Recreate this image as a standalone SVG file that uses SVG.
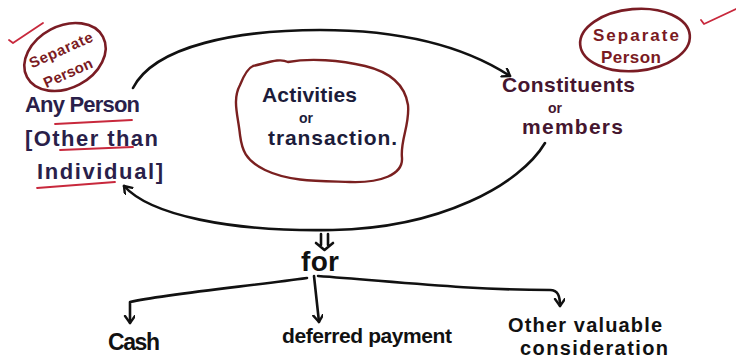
<svg xmlns="http://www.w3.org/2000/svg" width="736" height="361" viewBox="0 0 736 361">
<defs>
<style>
text{font-family:"Liberation Sans",Arial,sans-serif;font-weight:bold;}
.ink{fill:#2a1f4a;}
.nav{fill:#1c1c3a;}
.mar{fill:#45162f;}
.blk{fill:#111;}
.redt{fill:#7a1a22;}
.line{fill:none;stroke:#111;stroke-width:2.6;stroke-linecap:round;stroke-linejoin:round;}
.oval{fill:none;stroke:#7a1c24;stroke-width:2.6;}
.red{fill:none;stroke:#c8283c;stroke-width:1.8;stroke-linecap:round;stroke-linejoin:round;}
</style>
<marker id="ah" markerUnits="userSpaceOnUse" markerWidth="16" markerHeight="16" refX="8" refY="5" orient="auto">
<path d="M1,0 L8,5 L1,10" fill="none" stroke="#111" stroke-width="2.4" stroke-linecap="round" stroke-linejoin="round"/>
</marker>
</defs>
<rect width="736" height="361" fill="#fff"/>

<g id="connectors">
<path class="line" d="M133,88 C155,45 240,30 320,30 C410,30 470,50 510,76" marker-end="url(#ah)"/>
<path class="line" d="M545,143 C520,185 440,228 333,230 C230,232 150,215 124,186" marker-end="url(#ah)"/>
<path class="line" d="M321,234 L321,245 M328,234 L328,245 M316,243 L324.5,250 L333,243" stroke-width="2"/>
<path class="line" d="M307,278 C250,286 165,294 130,302 L130,323" marker-end="url(#ah)"/>
<path class="line" d="M314,276 L319,322" marker-end="url(#ah)"/>
<path class="line" d="M318,276 C400,282 470,290 550,290 C558,290 560,296 560,306" marker-end="url(#ah)"/>
</g>

<g id="marks">
<path class="red" d="M9,40 L13,43 L43,23"/>
<path class="red" d="M701,20 L704,24 L736,9"/>
<path class="red" d="M55,124 L132,120"/>
<path class="red" d="M60,150 L133,147" stroke="#6a1f3a"/>
<path class="red" d="M37,188 L115,182"/>
</g>

<g id="separate-person-left">
<ellipse class="oval" cx="65" cy="57" rx="43" ry="31" transform="rotate(-28 65 57)"/>
<text class="redt" x="61" y="55" font-size="15" text-anchor="middle" textLength="68" transform="rotate(-24 61 50)">Separate</text>
<text class="redt" x="68" y="78" font-size="15" text-anchor="middle" textLength="52" transform="rotate(-24 68 73)">Person</text>
</g>

<g id="any-person">
<text class="ink" x="25" y="112" font-size="22" textLength="115">Any Person</text>
<text class="ink" x="25" y="146" font-size="22" textLength="133">[Other than</text>
<text class="ink" x="37" y="179" font-size="22" textLength="126">Individual]</text>
</g>

<g id="activities">
<path fill="none" stroke="#7a2020" stroke-width="2.4" d="M253,66 C270,62 280,58 288,62 C310,58 340,60 365,66 C390,72 405,85 408,105 C410,125 400,140 402,158 C403,175 380,183 350,182 C320,181 290,182 265,170 C245,160 242,150 240,135 C238,115 232,100 240,85 C244,75 248,68 253,66 Z"/>
<text class="nav" x="262" y="102" font-size="21" textLength="95">Activities</text>
<text class="nav" x="306" y="123" font-size="14" text-anchor="middle">or</text>
<text class="nav" x="268" y="145" font-size="21" textLength="129">transaction.</text>
</g>

<g id="separate-person-right">
<ellipse class="oval" cx="635" cy="40" rx="55" ry="31" transform="rotate(-5 635 40)"/>
<text class="redt" x="636" y="41" font-size="17" text-anchor="middle" textLength="86">Separate</text>
<text class="redt" x="631" y="63" font-size="17" text-anchor="middle" textLength="60">Person</text>
</g>

<g id="constituents">
<text class="mar" x="502" y="92" font-size="21" textLength="133">Constituents</text>
<text class="mar" x="555" y="113" font-size="14" text-anchor="middle">or</text>
<text class="mar" x="522" y="134" font-size="21" textLength="101">members</text>
</g>

<g id="for">
<text class="blk" x="301" y="271" font-size="28" textLength="38">for</text>
</g>

<g id="cash">
<text class="blk" x="108" y="350" font-size="23" textLength="52">Cash</text>
</g>

<g id="deferred-payment">
<text class="blk" x="282" y="343" font-size="21" textLength="170">deferred payment</text>
</g>

<g id="other-valuable">
<text class="blk" x="508" y="332" font-size="20" textLength="154">Other valuable</text>
<text class="blk" x="520" y="355" font-size="20" textLength="148">consideration</text>
</g>
</svg>
